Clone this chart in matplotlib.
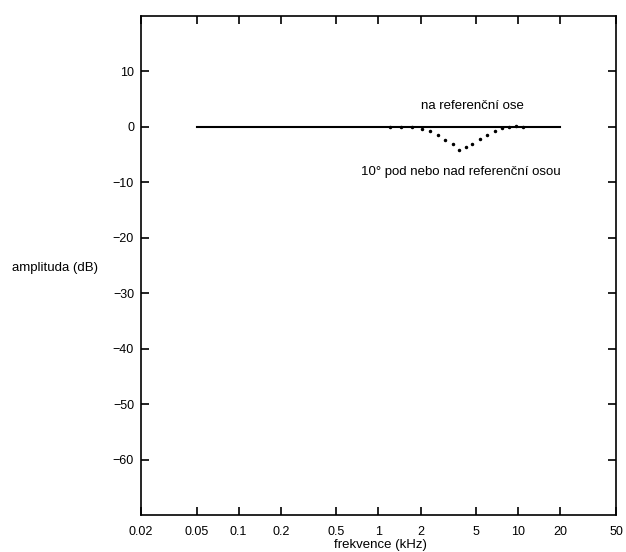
import matplotlib.pyplot as plt
from matplotlib.ticker import FixedLocator, NullLocator

plt.rcParams['font.family'] = ['Liberation Sans', 'DejaVu Sans']

x_ticks = [0.02, 0.05, 0.1, 0.2, 0.5, 1, 2, 5, 10, 20, 50]
x_labels = ['0.02', '0.05', '0.1', '0.2', '0.5', '1', '2', '5', '10', '20', '50']
y_ticks = [10, 0, -10, -20, -30, -40, -50, -60]
y_labels = ['10', '0', '\u221210', '\u221220', '\u221230', '\u221240', '\u221250', '\u221260']

# na referencni ose
on_axis_f = [0.05, 20]
on_axis_db = [0, 0]

# 10 deg off axis (dotted)
off_axis_f = [1.2, 1.45, 1.75, 2.05, 2.35, 2.65, 3.0, 3.4, 3.75, 4.2, 4.7, 5.3, 6.0, 6.8, 7.6, 8.6, 9.7, 10.8]
off_axis_db = [0, -0.05, -0.1, -0.3, -0.8, -1.5, -2.3, -3.1, -4.1, -3.7, -3.0, -2.2, -1.4, -0.7, -0.2, 0, 0.1, 0]

fig = plt.figure(figsize=(6.26, 5.52), dpi=100)
ax = fig.add_axes([0.2252, 0.067, 0.7588, 0.904])

ax.plot(on_axis_f, on_axis_db, color='black', linewidth=1.5)
ax.plot(off_axis_f, off_axis_db, linestyle='none', marker='o', markersize=1.5, color='black')

ax.set_xscale('log')
ax.set_xlim(0.02, 50)
ax.set_ylim(-70, 20)
ax.xaxis.set_major_locator(FixedLocator(x_ticks))
ax.xaxis.set_minor_locator(NullLocator())
ax.set_xticklabels(x_labels)
ax.set_yticks(y_ticks)
ax.set_yticklabels(y_labels)

ax.tick_params(direction='in', length=6, width=1.2, top=True, right=True,
               labelsize=9, pad=8)
ax.tick_params(axis='y', pad=5)
for s in ax.spines.values():
    s.set_linewidth(1.2)

ax.text(4.7, 3.8, 'na referenční ose', ha='center', va='center', fontsize=9.5)
ax.text(3.9, -8.2, '10° pod nebo nad referenční osou', ha='center', va='center', fontsize=9.5)

fig.text(12 / 626, 1 - 268 / 552, 'amplituda (dB)', ha='left', va='center', fontsize=9.5)
fig.text(380 / 626, 1 - 545 / 552, 'frekvence (kHz)', ha='center', va='center', fontsize=9.5)

fig.savefig('out.png', dpi=100)
